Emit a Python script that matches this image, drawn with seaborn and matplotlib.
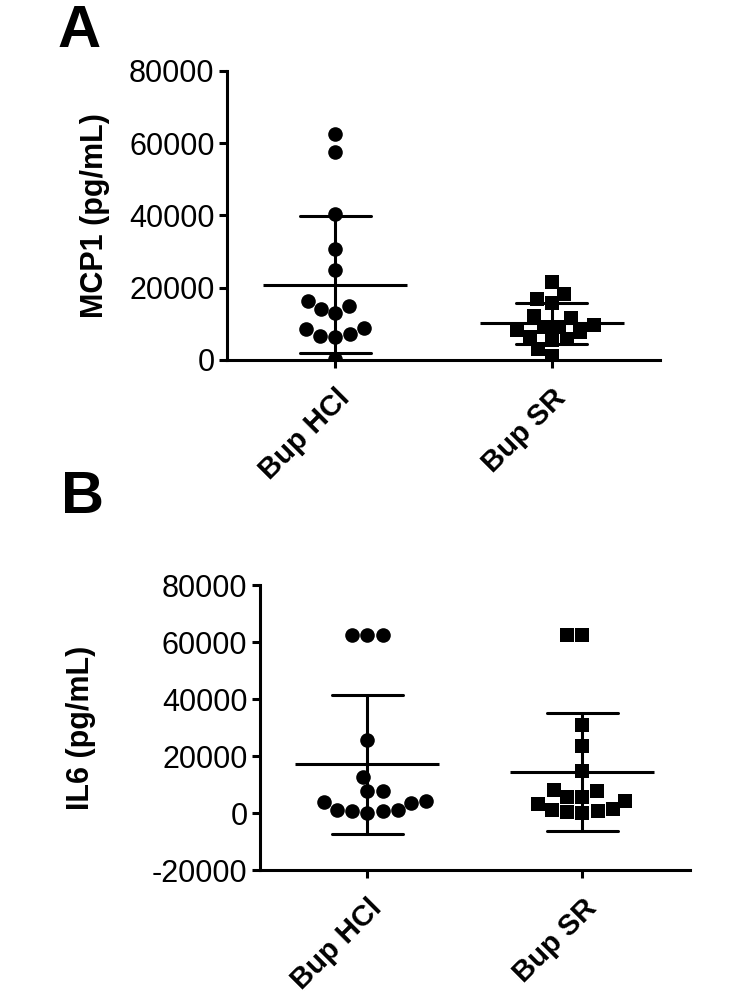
import numpy as np
import pandas as pd
import matplotlib
matplotlib.use("Agg")
import matplotlib.pyplot as plt
import seaborn as sns

# ---- data (pg/mL) ----
groups = ["Bup HCl", "Bup SR"]
mcp1_hcl = [62500, 57500, 40300, 30600, 24800, 16300, 14900, 14200, 12900,
            8800, 8600, 7200, 6700, 6400, 200]
mcp1_sr = [21500, 18200, 17000, 15700, 12100, 11500, 9800, 9200, 9000,
           8300, 7800, 6400, 5800, 5500, 2900, 1100]
il6_hcl = [62500, 62500, 62500, 25700, 12500, 7600, 7600, 4200, 3750,
           3500, 1200, 950, 850, 600, 0]
il6_sr = [62500, 62500, 31000, 23400, 14600, 8200, 7600, 5600, 5600,
          4300, 3050, 1400, 1050, 700, 250, 0]
yticks_a = [0, 20000, 40000, 60000, 80000]
yticks_b = [-20000, 0, 20000, 40000, 60000, 80000]


def make_df(hcl, sr):
    return pd.DataFrame({
        "group": [groups[0]] * len(hcl) + [groups[1]] * len(sr),
        "value": hcl + sr,
    })


df_mcp1 = make_df(mcp1_hcl, mcp1_sr)
df_il6 = make_df(il6_hcl, il6_sr)

sns.set_style("ticks")
plt.rcParams["font.family"] = ["Liberation Sans", "DejaVu Sans"]
plt.rcParams["text.color"] = "black"
plt.rcParams["axes.labelcolor"] = "black"
plt.rcParams["xtick.color"] = "black"
plt.rcParams["ytick.color"] = "black"

fig = plt.figure(figsize=(7.46, 9.96), dpi=100)
ax_a = fig.add_axes([0.3043, 0.6386, 0.5804, 0.2902])
ax_b = fig.add_axes([0.3485, 0.1265, 0.5764, 0.2861])

markers = {"Bup HCl": "o", "Bup SR": "s"}
sizes = {"Bup HCl": 10.5, "Bup SR": 10.5}


def draw_panel(ax, df, ylabel, yticks, labelpad):
    # scatter of the individual animals
    for g in groups:
        sub = df[df["group"] == g]
        sns.swarmplot(data=sub, x="group", y="value", order=groups, ax=ax,
                      color="black", marker=markers[g], size=sizes[g],
                      linewidth=0, zorder=3)
    # mean +/- SD
    sns.pointplot(data=df, x="group", y="value", order=groups, ax=ax,
                  errorbar="sd", capsize=0.33, color="black",
                  linestyle="none", marker="_", markersize=103,
                  markeredgewidth=2.2, err_kws={"linewidth": 2.2}, zorder=2)
    ax.set_xlim(-0.5, 1.5)
    ax.set_ylim(yticks[0], yticks[-1])
    ax.set_yticks(yticks)
    ax.set_yticklabels([str(t) for t in yticks], fontsize=22)
    ax.set_xticks([0, 1])
    ax.set_xticklabels(groups, rotation=45, ha="right",
                       rotation_mode="anchor", fontsize=21, fontweight="bold")
    ax.set_xlabel("")
    ax.set_ylabel(ylabel, fontsize=22, fontweight="bold", labelpad=labelpad)
    ax.tick_params(axis="both", length=6, width=2.2, color="black")
    ax.tick_params(axis="y", pad=3)
    ax.tick_params(axis="x", pad=11)
    for side in ["top", "right"]:
        ax.spines[side].set_visible(False)
    for side in ["left", "bottom"]:
        ax.spines[side].set_linewidth(2.2)
        ax.spines[side].set_color("black")


draw_panel(ax_a, df_mcp1, "MCP1 (pg/mL)", yticks_a, 14)
draw_panel(ax_b, df_il6, "IL6 (pg/mL)", yticks_b, 40)

fig.text(0.077, 0.953, "A", fontsize=43, fontweight="bold", va="baseline", ha="left")
fig.text(0.082, 0.485, "B", fontsize=43, fontweight="bold", va="baseline", ha="left")

fig.savefig("out.png", dpi=100)
